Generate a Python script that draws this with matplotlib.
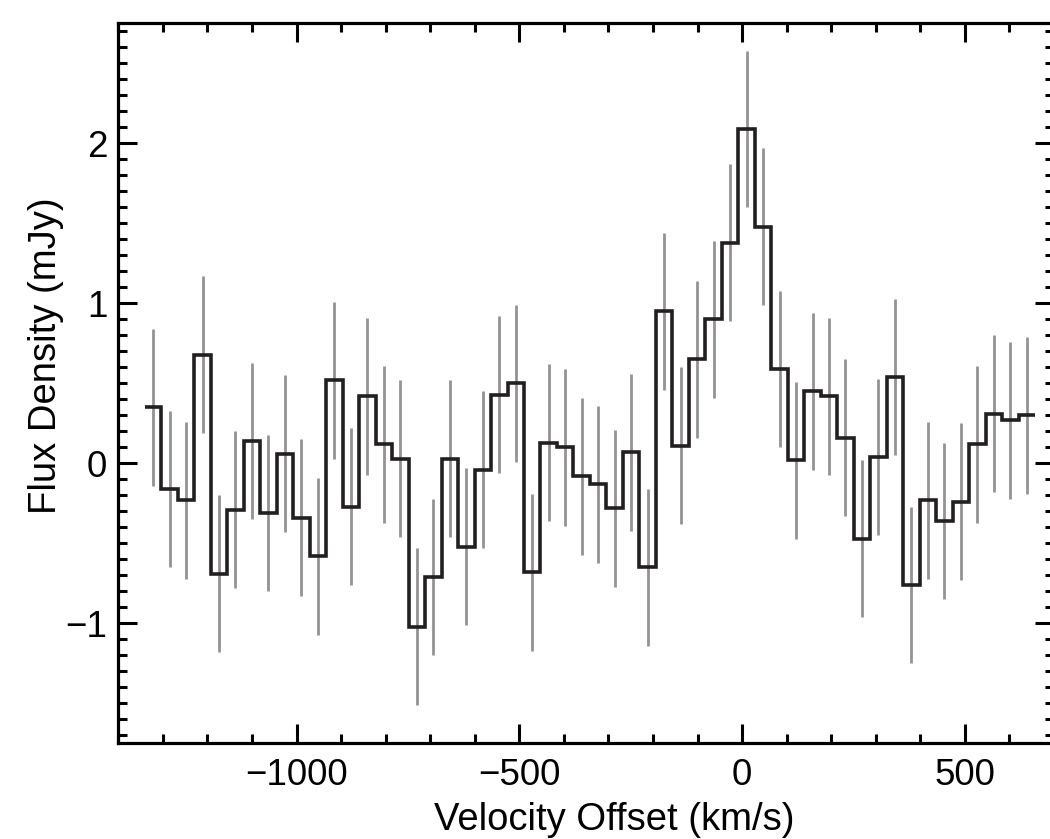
import matplotlib
matplotlib.use("Agg")
import matplotlib.pyplot as plt
from matplotlib.ticker import MultipleLocator
import numpy as np

# Channel centres (km/s)
velocity = [-1322, -1285, -1248, -1211, -1174, -1137, -1100, -1063, -1026, -989,
            -952, -915, -878, -841, -804, -767, -730, -693, -656, -619,
            -582, -545, -508, -471, -434, -397, -360, -323, -286, -249,
            -212, -175, -138, -101, -64, -27, 10, 47, 84, 121,
            158, 195, 232, 269, 306, 343, 380, 417, 454, 491,
            528, 565, 602, 639]

# Flux density per channel (mJy)
flux = [0.35, -0.16, -0.23, 0.68, -0.69, -0.29, 0.14, -0.31, 0.06, -0.34,
        -0.58, 0.52, -0.27, 0.42, 0.12, 0.03, -1.02, -0.71, 0.03, -0.52,
        -0.04, 0.43, 0.50, -0.68, 0.13, 0.10, -0.08, -0.13, -0.28, 0.07,
        -0.65, 0.95, 0.11, 0.65, 0.90, 1.38, 2.09, 1.48, 0.59, 0.02,
        0.45, 0.42, 0.16, -0.47, 0.04, 0.54, -0.76, -0.23, -0.36, -0.24,
        0.12, 0.31, 0.27, 0.30]

# 1-sigma uncertainty per channel (mJy)
flux_err = [0.49, 0.49, 0.49, 0.49, 0.49, 0.49, 0.49, 0.49, 0.49, 0.49,
            0.49, 0.49, 0.49, 0.49, 0.49, 0.49, 0.49, 0.49, 0.49, 0.49,
            0.49, 0.49, 0.49, 0.49, 0.49, 0.49, 0.49, 0.49, 0.49, 0.49,
            0.49, 0.49, 0.49, 0.49, 0.49, 0.49, 0.49, 0.49, 0.49, 0.49,
            0.49, 0.49, 0.49, 0.49, 0.49, 0.49, 0.49, 0.49, 0.49, 0.49,
            0.49, 0.49, 0.49, 0.49]

xlabel = "Velocity Offset (km/s)"
ylabel = "Flux Density (mJy)"

plt.rcParams['font.family'] = ['Liberation Sans', 'DejaVu Sans']

W, H = 1050, 839
fig = plt.figure(figsize=(W / 100, H / 100), dpi=100)
left, right, top, bottom = 118.3, 1054.0, 23.3, 743.3
ax = fig.add_axes([left / W, (H - bottom) / H, (right - left) / W, (bottom - top) / H])

v = np.array(velocity, dtype=float)
f = np.array(flux, dtype=float)
e = np.array(flux_err, dtype=float)

ax.errorbar(v, f, yerr=e, fmt='none', ecolor='#939393', elinewidth=2.0, capsize=0, zorder=2)

mids = (v[:-1] + v[1:]) / 2
edges = np.concatenate([[v[0] - (v[1] - v[0]) / 2], mids, [v[-1] + (v[-1] - v[-2]) / 2]])
ax.stairs(f, edges, baseline=None, color='#231f20', linewidth=2.6, zorder=3)

ax.set_xlim(-1400, 700)
ax.set_ylim(-1.75, 2.75)
ax.xaxis.set_major_locator(MultipleLocator(500))
ax.xaxis.set_minor_locator(MultipleLocator(100))
ax.yaxis.set_major_locator(MultipleLocator(1))
ax.yaxis.set_minor_locator(MultipleLocator(0.1))

ax.tick_params(which='both', direction='in', top=True, right=True, width=2.2, color='black')
ax.tick_params(which='major', length=13.7)
ax.tick_params(which='minor', length=6.8)
ax.tick_params(axis='x', which='major', labelsize=26.5, pad=10.5)
ax.tick_params(axis='y', which='major', labelsize=26.5, pad=8)
for s in ax.spines.values():
    s.set_linewidth(2.3)

fig.text(614 / W, (H - 830) / H, xlabel, fontsize=27.5, ha='center', va='baseline')
fig.text(56 / W, (H - 356) / H, ylabel, fontsize=27.5, rotation=90,
         rotation_mode='anchor', ha='center', va='baseline')

fig.savefig('out.png', dpi=100)
